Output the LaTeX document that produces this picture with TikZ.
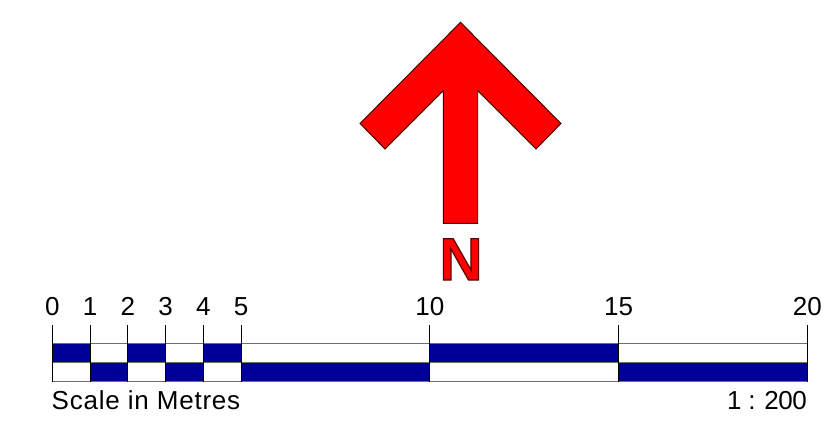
\documentclass[tikz,border=0pt]{standalone}
\usepackage{fontspec}
\setmainfont{Liberation Sans}
\definecolor{navy}{RGB}{0,0,153}
\definecolor{barline}{RGB}{110,110,110}
\begin{document}
\begin{tikzpicture}[x=1pt,y=-1pt,
  lbl/.style={font=\fontsize{26}{30}\selectfont, inner sep=0pt, anchor=base},
  seg/.style={fill=navy, draw=none},
  tick/.style={draw=black, line width=0.9pt},
  edge/.style={draw=barline, line width=0.9pt}]
\useasboundingbox (0,0) rectangle (828,426);
% North arrow
\draw[fill=red, draw=black!80!red, line width=0.9pt, line join=miter]
  (460.5,22.3) coordinate (tip) -- (561,123.5) -- (536,149) -- (477.7,90.7)
  -- (477.7,223.3) -- (443.3,223.3) -- (443.3,90.7) -- (385,149) -- (360,123.5) -- cycle;
\node[inner sep=0pt, anchor=base, text=red, font=\fontsize{60}{60}\selectfont\bfseries] (N) at (461,280)
  {\special{pdf:literal direct 0.35 0 0 RG 1.2 w 2 Tr}N\special{pdf:literal direct 0 Tr}};
% scale bar
\def\u{37.75}
\def\xo{52.3}
% filled segments
\foreach \a/\b in {0/1,2/3,4/5,10/15}{
  \fill[navy] ({\xo+\a*\u},343.3) rectangle ({\xo+\b*\u},362.7);
}
\foreach \a/\b in {1/2,3/4,5/10,15/20}{
  \fill[navy] ({\xo+\a*\u},362.7) rectangle ({\xo+\b*\u},381.7);
}
% horizontal edges
\foreach \y in {343.3,362.7,381.7}{
  \draw[edge] (\xo,\y) -- ({\xo+20*\u},\y);
}
% ticks and labels
\foreach \v in {0,1,2,3,4,5,10,15,20}{
  \coordinate (t\v) at ({\xo+\v*\u},325);
  \coordinate (b\v) at ({\xo+\v*\u},381.7);
  \draw[tick] (t\v) -- (b\v);
  \node[lbl] (l\v) at ({\xo+\v*\u},315) {\v};
}
\node[lbl, anchor=base west] (sc) at (51.5,409) {\addfontfeature{LetterSpace=3}Scale in Metres};
\node[lbl, anchor=base east] (ratio) at (807,409) {\addfontfeature{LetterSpace=-2}1 : 200};
\end{tikzpicture}
\end{document}
